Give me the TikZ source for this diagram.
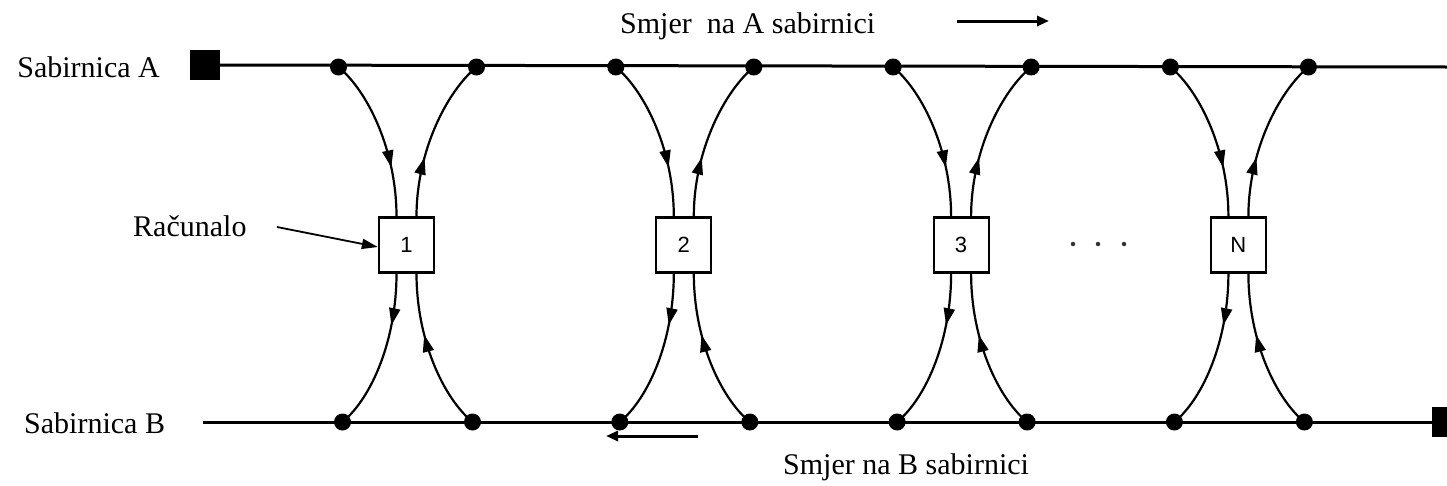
\documentclass[tikz,border=0pt]{standalone}
\usepackage{fontspec}
\setmainfont{Liberation Serif}
\newfontfamily\boxfont{Liberation Sans}
\usetikzlibrary{arrows.meta,decorations.markings}
\tikzset{
  bus/.style={line width=3pt},
  link/.style={line width=2.2pt},
  junct/.style={circle,fill=black,inner sep=0pt,minimum size=17pt},
  term/.style={rectangle,fill=black,inner sep=0pt,minimum size=30pt},
  comp/.style={draw,line width=2.2pt,minimum size=55pt,inner sep=0pt,font=\boxfont\fontsize{22}{26}\selectfont},
  lbl/.style={font=\fontsize{30}{36}\selectfont,inner sep=0pt},
  midarrow/.style={postaction={decorate},decoration={markings,mark=at position #1 with {\arrow{Triangle[length=17pt,width=11pt]}}}},
  dirarrow/.style={line width=3pt,-{Triangle[length=12pt,width=10pt]}},
  smalldot/.style={circle,fill=black!80,inner sep=0pt,minimum size=4.5pt}
}
\begin{document}
\begin{tikzpicture}[x=1pt,y=-1pt]
\useasboundingbox (0,0) rectangle (1447,485);
% terminators
\node[term] (tA) at (205,65) {};
\node[term] (tB) at (1447,422) {};
\coordinate (Aend) at (1447,67);
\coordinate (Bstart) at (203,422);
% labels
\node[lbl,anchor=east] (labA) at (160,67) {Sabirnica A};
\node[lbl,anchor=west] (labB) at (24,423) {Sabirnica B};
\node[lbl,anchor=west] (labR) at (133,226) {Računalo};
\node[lbl,anchor=west] (labSA) at (620,26) {Smjer\ \ na A sabirnici};
\node[lbl,anchor=west] (labSB) at (783,467) {Smjer na B sabirnici};
% direction arrows
\coordinate (aA1) at (957,21); \coordinate (aA2) at (1049,21);
\draw[dirarrow] (aA1) -- (aA2);
\coordinate (aB1) at (698,436); \coordinate (aB2) at (606,436);
\draw[dirarrow] (aB1) -- (aB2);
% computers
\foreach \k/\t/\cx in {1/1/406.5,2/2/683.8,3/3/961.1,4/N/1238.4}{
  \node[comp] (b\k) at (\cx,245) {\t};
  \node[junct] (tl\k) at (\cx-68,67) {};
  \node[junct] (tr\k) at (\cx+70,67) {};
  \node[junct] (bl\k) at (\cx-64,422) {};
  \node[junct] (br\k) at (\cx+66,422) {};
}
% buses
\draw[bus] (tA.east) -- (Aend);
\draw[bus] (Bstart) -- (tB.west);
% links
\foreach \k in {1,2,3,4}{
  \draw[link,midarrow=0.7] (tl\k.center) .. controls +(30,25) and +(0,-65) .. ([xshift=-10pt]b\k.north) ;
  \draw[link,midarrow=0.36] ([xshift=10pt]b\k.north) .. controls +(0,-65) and +(-30,25) .. (tr\k.center);
  \draw[link,midarrow=0.32] ([xshift=-10pt]b\k.south) .. controls +(0,65) and +(30,-25) .. (bl\k.center);
  \draw[link,midarrow=0.62] (br\k.center) .. controls +(-30,-25) and +(0,65) .. ([xshift=10pt]b\k.south);
}
% Racunalo pointer
\coordinate (rS) at (277,227);
\draw[line width=1.8pt,-{Triangle[length=16pt,width=10pt]}] (rS) -- ([yshift=-2pt]b1.west);
% ellipsis
\node[smalldot] (d1) at (1073,244) {};
\node[smalldot] (d2) at (1098,244) {};
\node[smalldot] (d3) at (1124,244) {};
\end{tikzpicture}
\end{document}
